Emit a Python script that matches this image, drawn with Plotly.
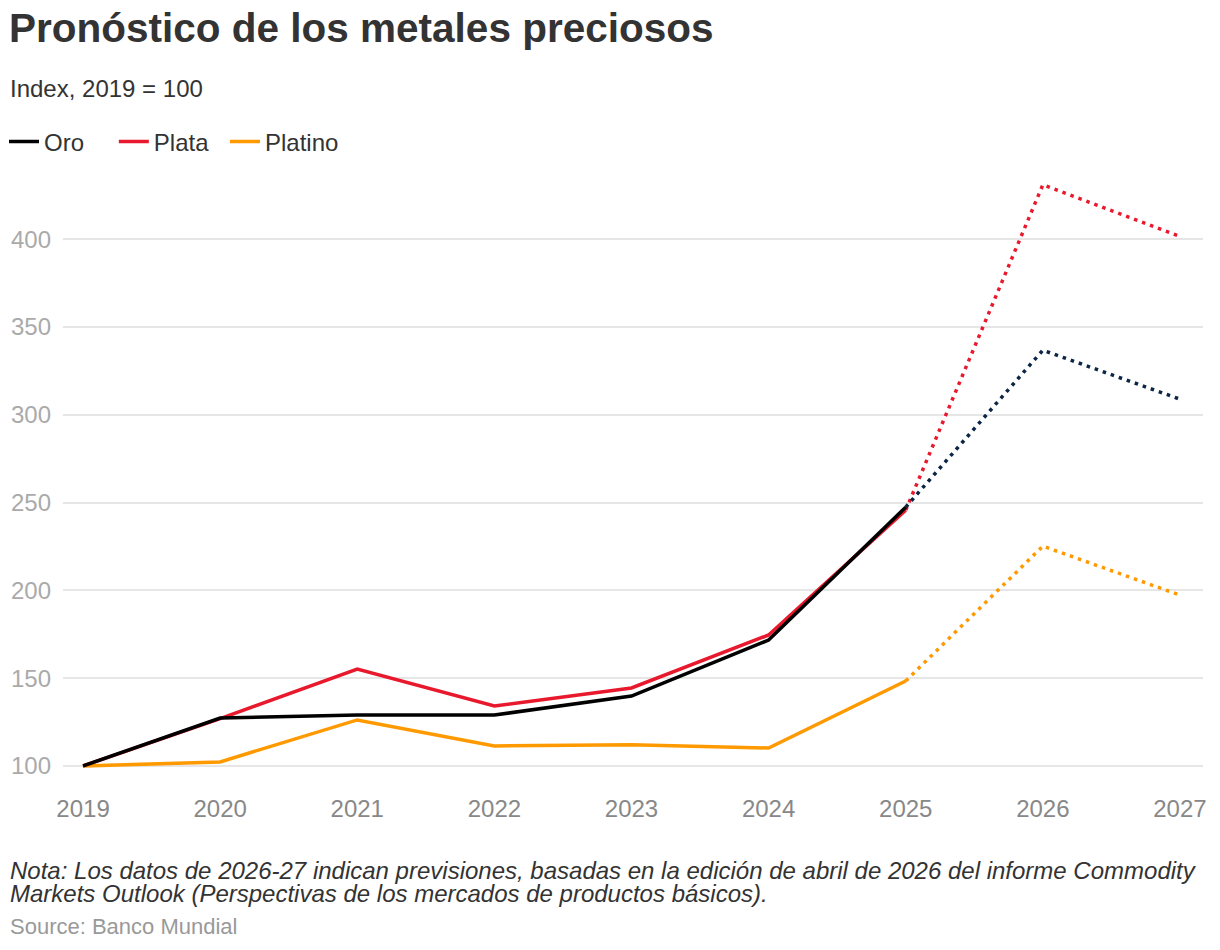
import plotly.graph_objects as go

years = [2019, 2020, 2021, 2022, 2023, 2024, 2025]
years_fc = [2025, 2026, 2027]

# historical index values (2019 = 100)
oro = [100, 127.3, 129, 129, 139.8, 171.7, 247.4]
plata = [100, 127, 155.2, 134.1, 144.4, 174.6, 245.7]
platino = [100, 102.3, 126.2, 111.4, 112, 110.2, 148.4]

# forecasts 2026-27 (start at 2025 value)
oro_fc = [247.4, 336.8, 308.9]
plata_fc = [245.7, 431, 401.6]
platino_fc = [148.4, 225.2, 197.3]

y_ticks = [100, 150, 200, 250, 300, 350, 400]

FONT = "Liberation Sans, Arial, sans-serif"
c_oro, c_oro_fc = "#000000", "#0b2545"
c_plata = "#e8192c"
c_platino = "#ff9900"
LW = 3.5
DOT = "3.5px,5px"


def px_x(p):
    return (p - 63) / 1140


def px_y(p):
    return (787 - p) / 618


fig = go.Figure()

# forecasts first so historical lines sit on top
fig.add_trace(go.Scatter(x=years_fc, y=platino_fc, mode="lines", showlegend=False,
                         line=dict(color=c_platino, width=LW, dash=DOT), hoverinfo="skip"))
fig.add_trace(go.Scatter(x=years_fc, y=plata_fc, mode="lines", showlegend=False,
                         line=dict(color=c_plata, width=LW, dash=DOT), hoverinfo="skip"))
fig.add_trace(go.Scatter(x=years_fc, y=oro_fc, mode="lines", showlegend=False,
                         line=dict(color=c_oro_fc, width=LW, dash=DOT), hoverinfo="skip"))

# trailing spaces widen the gap between legend entries
fig.add_trace(go.Scatter(x=years, y=platino, mode="lines", name="Platino",
                         line=dict(color=c_platino, width=LW), legendrank=3))
fig.add_trace(go.Scatter(x=years, y=plata, mode="lines", name="Plata\u00a0\u2009",
                         line=dict(color=c_plata, width=LW), legendrank=2))
fig.add_trace(go.Scatter(x=years, y=oro, mode="lines", name="Oro\u00a0\u00a0\u00a0\u2009",
                         line=dict(color=c_oro, width=LW), legendrank=1))

fig.update_layout(
    width=1220, height=950,
    margin=dict(l=63, r=17, t=169, b=163, autoexpand=False),
    paper_bgcolor="white", plot_bgcolor="white",
    font=dict(family=FONT, color="#333333"),
    title=dict(text="<b>Pronóstico de los metales preciosos</b>",
               font=dict(size=40.5, color="#333333", family=FONT),
               xref="container", yref="container",
               x=9 / 1220, xanchor="left", y=1 - 28 / 950, yanchor="middle"),
    legend=dict(orientation="h", x=px_x(4), xanchor="left",
                y=px_y(142), yanchor="middle",
                font=dict(size=24, color="#333333"), itemwidth=30,
                traceorder="normal", bgcolor="rgba(0,0,0,0)"),
    xaxis=dict(range=[2018.854, 2027.168], tickmode="array", tickvals=list(range(2019, 2028)),
               showgrid=False, zeroline=False, showline=False,
               tickfont=dict(size=24, color="#888888"), ticklabelstandoff=5),
    yaxis=dict(range=[88, 440], tickmode="array", tickvals=y_ticks,
               showgrid=True, gridcolor="#e6e6e6", gridwidth=2, zeroline=False, showline=False,
               tickfont=dict(size=24, color="#aaaaaa"), ticklabelstandoff=11),
    showlegend=True,
    hovermode=False,
)

fig.add_annotation(text="Index, 2019 = 100", xref="paper", yref="paper",
                   x=px_x(8), xanchor="left", y=px_y(88), yanchor="middle",
                   showarrow=False, font=dict(size=24, color="#333333"))

fig.add_annotation(text="<i>Nota: Los datos de 2026-27 indican previsiones, basadas en la edición de abril de 2026 del informe Commodity</i>",
                   xref="paper", yref="paper", align="left",
                   x=px_x(8), xanchor="left", y=px_y(870), yanchor="middle",
                   showarrow=False, font=dict(size=24, color="#333333"))
fig.add_annotation(text="<i>Markets Outlook (Perspectivas de los mercados de productos básicos).</i>",
                   xref="paper", yref="paper", align="left",
                   x=px_x(8), xanchor="left", y=px_y(893), yanchor="middle",
                   showarrow=False, font=dict(size=24, color="#333333"))

fig.add_annotation(text="Source: Banco Mundial", xref="paper", yref="paper",
                   x=px_x(8), xanchor="left", y=px_y(926), yanchor="middle",
                   showarrow=False, font=dict(size=22, color="#999999"))

fig.write_html("out.html", config={"displayModeBar": False},
               post_script="document.body.style.margin='0';")
